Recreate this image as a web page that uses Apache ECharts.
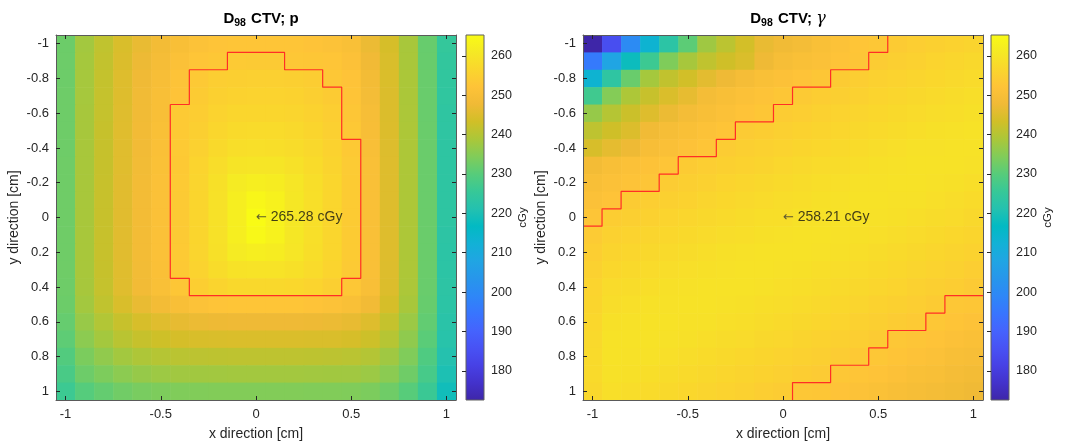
<!DOCTYPE html>
<html>
<head>
<meta charset="utf-8">
<script src="https://cdn.jsdelivr.net/npm/echarts@6/dist/echarts.min.js"></script>
<style>
  html, body { margin: 0; padding: 0; background: #fff; }
  #chart { width: 1065px; height: 447px; }
</style>
</head>
<body>
<div id="chart"></div>
<script>
// cell centres (cm) and ticks
const xs = [-1, -0.9, -0.8, -0.7, -0.6, -0.5, -0.4, -0.3, -0.2, -0.1, 0, 0.1, 0.2, 0.3, 0.4, 0.5, 0.6, 0.7, 0.8, 0.9, 1];
const ys = [-1, -0.9, -0.8, -0.7, -0.6, -0.5, -0.4, -0.3, -0.2, -0.1, 0, 0.1, 0.2, 0.3, 0.4, 0.5, 0.6, 0.7, 0.8, 0.9, 1];
const xTicks = [-1, -0.5, 0, 0.5, 1];
const yTicks = [-1, -0.8, -0.6, -0.4, -0.2, 0, 0.2, 0.4, 0.6, 0.8, 1];
const cbarTicks = [180, 190, 200, 210, 220, 230, 240, 250, 260];
const doseRange = [172.6, 265.28];
const centerDose = [265.28, 258.21];
const markAt = [[0, 0], [0, 0]];

// D98 CTV, p  (rows = y from -1 to 1, columns = x from -1 to 1)
const doseP = [
  [232.2, 238.0, 241.2, 244.3, 246.7, 248.6, 250.3, 251.5, 252.2, 252.4, 252.5, 252.5, 252.4, 252.1, 251.5, 250.4, 247.0, 243.9, 238.5, 231.7, 224.8],
  [232.3, 238.2, 241.5, 244.7, 247.2, 249.2, 251.2, 252.4, 252.9, 253.6, 253.7, 253.7, 253.0, 252.8, 252.5, 251.3, 247.8, 244.3, 238.6, 231.8, 224.4],
  [232.3, 238.3, 241.7, 245.0, 247.7, 249.7, 251.8, 253.4, 254.5, 254.9, 255.0, 255.0, 254.8, 254.3, 252.9, 252.0, 248.5, 244.5, 238.8, 231.9, 224.2],
  [232.4, 238.3, 241.8, 245.1, 247.9, 250.0, 252.1, 253.9, 255.1, 255.6, 255.7, 255.7, 255.5, 254.9, 254.0, 252.3, 249.0, 244.6, 238.8, 231.9, 224.0],
  [232.4, 238.4, 241.8, 245.2, 248.0, 250.3, 253.6, 254.4, 255.7, 256.4, 256.5, 256.5, 256.2, 255.5, 254.6, 252.7, 249.4, 244.7, 238.9, 231.9, 223.8],
  [232.4, 238.4, 241.9, 245.3, 248.2, 250.5, 253.6, 254.9, 256.5, 257.4, 257.5, 257.5, 257.1, 256.3, 255.0, 253.1, 249.8, 244.8, 239.0, 232.0, 223.6],
  [232.4, 238.5, 241.9, 245.4, 248.3, 250.7, 253.6, 255.3, 257.2, 258.3, 258.5, 258.4, 257.9, 257.0, 255.5, 253.5, 250.2, 244.9, 239.0, 232.0, 223.5],
  [232.5, 238.5, 241.9, 245.4, 248.4, 250.9, 253.5, 255.9, 258.1, 259.7, 260.0, 259.9, 259.1, 257.7, 256.1, 253.8, 250.4, 245.0, 239.0, 232.0, 223.5],
  [232.5, 238.5, 242.0, 245.5, 248.5, 251.0, 253.6, 256.2, 258.8, 261.3, 262.0, 261.7, 260.1, 258.3, 256.4, 253.9, 250.5, 245.0, 239.0, 232.0, 223.5],
  [232.5, 238.5, 242.0, 245.5, 248.5, 251.0, 253.7, 256.3, 259.0, 262.0, 264.0, 262.9, 260.5, 258.5, 256.5, 254.0, 250.5, 245.0, 239.0, 232.0, 223.5],
  [232.5, 238.5, 242.0, 245.5, 248.5, 251.0, 253.7, 256.3, 259.0, 262.0, 265.28, 263.0, 260.5, 258.5, 256.5, 254.0, 250.5, 245.0, 239.0, 232.0, 223.5],
  [232.5, 238.5, 242.0, 245.5, 248.5, 251.0, 253.7, 256.3, 259.0, 262.0, 264.5, 263.0, 260.5, 258.5, 256.5, 254.0, 250.5, 245.0, 239.0, 232.0, 223.2],
  [232.5, 238.5, 242.0, 245.5, 248.5, 251.0, 253.6, 256.2, 258.8, 261.3, 262.0, 261.7, 260.1, 258.3, 256.4, 253.9, 250.5, 245.0, 239.0, 232.0, 223.0],
  [232.5, 238.5, 241.9, 245.4, 248.4, 250.8, 253.5, 255.8, 257.9, 259.3, 259.5, 259.4, 258.7, 257.5, 255.9, 253.7, 250.4, 244.9, 239.0, 232.0, 223.0],
  [232.4, 238.4, 241.8, 245.3, 248.1, 250.4, 252.7, 254.7, 256.1, 256.9, 257.0, 257.0, 256.7, 255.9, 254.8, 252.9, 250.0, 244.8, 238.9, 231.9, 223.2],
  [232.2, 238.0, 241.2, 244.3, 246.7, 248.6, 250.3, 251.5, 252.2, 252.4, 252.5, 252.5, 252.4, 252.1, 251.5, 250.4, 248.2, 243.9, 238.5, 231.7, 222.9],
  [231.5, 236.8, 239.6, 242.1, 244.1, 245.4, 246.4, 247.1, 247.4, 247.5, 247.5, 247.5, 247.5, 247.4, 247.1, 246.5, 245.1, 241.8, 237.1, 231.1, 222.5],
  [230.7, 235.5, 238.1, 240.4, 241.9, 242.9, 243.8, 244.2, 244.4, 244.5, 244.5, 244.5, 244.5, 244.4, 244.3, 243.9, 242.7, 240.1, 235.9, 230.3, 222.1],
  [229.3, 233.8, 236.1, 238.0, 239.1, 240.0, 240.5, 240.8, 240.9, 241.0, 241.0, 241.0, 241.0, 240.9, 240.8, 240.6, 239.8, 237.6, 234.3, 228.9, 221.3],
  [228.1, 232.3, 234.0, 235.5, 236.6, 237.3, 237.7, 237.8, 237.9, 238.0, 238.0, 238.0, 238.0, 237.9, 237.8, 237.7, 237.2, 235.4, 232.5, 227.7, 220.3],
  [226.3, 229.7, 231.3, 232.7, 233.5, 234.0, 234.3, 234.4, 234.5, 234.5, 234.5, 234.5, 234.5, 234.4, 234.4, 234.3, 233.9, 232.5, 230.0, 226.0, 218.7]
];

// D98 CTV, gamma
const doseG = [
  [172.6, 184.7, 200.4, 213.4, 223.0, 230.5, 237.5, 240.7, 243.5, 246.7, 248.0, 249.0, 250.5, 251.5, 252.5, 253.0, 253.9, 254.5, 255.1, 255.6, 256.1],
  [196.0, 207.8, 218.0, 226.3, 234.2, 238.4, 241.2, 243.0, 244.5, 247.5, 249.5, 250.5, 251.2, 252.0, 252.6, 254.2, 254.8, 255.4, 255.9, 256.4, 256.9],
  [213.4, 223.6, 231.9, 238.2, 241.4, 243.4, 245.8, 247.5, 249.3, 250.5, 251.3, 252.0, 252.7, 254.0, 254.5, 255.2, 255.7, 256.2, 256.7, 257.1, 257.6],
  [226.8, 234.7, 239.0, 242.0, 244.5, 246.3, 249.0, 250.0, 251.0, 251.8, 252.7, 253.7, 254.3, 254.9, 255.4, 255.9, 256.5, 256.9, 257.4, 257.8, 258.2],
  [236.6, 240.0, 242.5, 245.0, 247.0, 249.0, 250.3, 251.2, 252.0, 252.8, 254.1, 254.6, 255.2, 255.7, 256.2, 256.7, 257.2, 257.6, 258.0, 258.4, 258.8],
  [241.0, 243.0, 244.8, 248.0, 249.5, 250.6, 251.5, 252.3, 253.8, 254.4, 255.0, 255.5, 256.0, 256.5, 257.0, 257.4, 257.9, 258.3, 258.7, 259.0, 259.2],
  [244.0, 246.0, 247.3, 249.8, 250.8, 251.6, 252.4, 254.2, 254.8, 255.3, 255.8, 256.3, 256.8, 257.2, 257.7, 258.1, 258.5, 258.9, 259.1, 259.3, 259.2],
  [248.7, 250.0, 251.0, 251.7, 252.5, 253.9, 254.5, 255.1, 255.6, 256.1, 256.6, 257.1, 257.5, 257.9, 258.3, 258.7, 259.0, 259.2, 259.3, 259.2, 258.9],
  [250.0, 251.2, 251.8, 252.6, 254.2, 254.8, 255.3, 255.9, 256.4, 256.9, 257.3, 257.8, 258.2, 258.6, 258.9, 259.1, 259.3, 259.2, 259.0, 258.7, 258.4],
  [251.0, 252.0, 254.0, 254.5, 255.1, 255.6, 256.2, 256.7, 257.1, 257.6, 258.0, 258.4, 258.8, 259.0, 259.2, 259.3, 259.1, 258.9, 258.5, 258.1, 257.7],
  [252.6, 254.3, 254.8, 255.4, 255.9, 256.4, 256.9, 257.4, 257.8, 258.2, 258.21, 258.9, 259.1, 259.3, 259.2, 259.0, 258.7, 258.3, 257.9, 257.5, 257.0],
  [253.8, 255.2, 255.7, 256.2, 256.7, 257.2, 257.6, 258.0, 258.4, 258.8, 259.1, 259.2, 259.3, 259.1, 258.8, 258.5, 258.1, 257.6, 257.2, 256.8, 256.3],
  [254.6, 256.0, 256.5, 257.0, 257.4, 257.9, 258.3, 258.7, 258.9, 259.2, 259.3, 259.2, 259.0, 258.7, 258.3, 257.9, 257.4, 257.0, 256.5, 256.0, 255.5],
  [255.3, 256.8, 257.2, 257.6, 258.1, 258.5, 258.8, 259.1, 259.3, 259.2, 259.1, 258.8, 258.4, 258.0, 257.6, 257.2, 256.7, 256.2, 255.7, 255.2, 254.6],
  [255.9, 257.5, 257.9, 258.3, 258.7, 259.0, 259.2, 259.3, 259.2, 258.9, 258.6, 258.2, 257.8, 257.4, 256.9, 256.4, 255.9, 255.4, 254.9, 254.3, 253.7],
  [256.3, 258.1, 258.5, 258.9, 259.1, 259.3, 259.2, 259.1, 258.8, 258.4, 258.0, 257.5, 257.1, 256.7, 256.2, 255.6, 255.1, 254.5, 254.0, 253.0, 252.7],
  [256.8, 258.7, 259.0, 259.2, 259.3, 259.1, 258.9, 258.6, 258.2, 257.8, 257.3, 256.9, 256.4, 255.9, 255.4, 254.8, 254.2, 253.6, 253.0, 252.3, 251.7],
  [257.1, 259.2, 259.3, 259.2, 259.0, 258.7, 258.3, 257.9, 257.5, 257.0, 256.6, 256.1, 255.6, 255.1, 254.5, 253.9, 253.0, 252.6, 252.0, 251.3, 250.7],
  [257.3, 259.3, 259.1, 258.9, 258.5, 258.1, 257.7, 257.2, 256.8, 256.3, 255.8, 255.3, 254.8, 254.2, 253.5, 252.9, 252.3, 251.6, 251.0, 250.3, 249.7],
  [257.3, 259.0, 258.7, 258.3, 257.9, 257.4, 256.9, 256.5, 256.0, 255.5, 255.0, 254.4, 253.8, 253.0, 252.5, 251.9, 251.3, 250.6, 250.0, 249.3, 248.7],
  [257.0, 258.5, 258.1, 257.6, 257.2, 256.7, 256.2, 255.7, 255.2, 254.6, 254.1, 253.0, 252.8, 252.1, 251.5, 250.9, 250.3, 249.6, 249.0, 248.4, 247.7]
];

// red outlines (cell edges, cm)
const contourP = [[-0.45, -0.65], [-0.35, -0.65], [-0.35, -0.85], [-0.15, -0.85], [-0.15, -0.95], [0.15, -0.95],
  [0.15, -0.85], [0.35, -0.85], [0.35, -0.75], [0.45, -0.75], [0.45, -0.45], [0.55, -0.45], [0.55, 0.35],
  [0.45, 0.35], [0.45, 0.45], [-0.35, 0.45], [-0.35, 0.35], [-0.45, 0.35], [-0.45, -0.65]];
const contourGUpper = [[0.55, -1.05], [0.55, -0.95], [0.45, -0.95], [0.45, -0.85], [0.25, -0.85], [0.25, -0.75],
  [0.05, -0.75], [0.05, -0.65], [-0.05, -0.65], [-0.05, -0.55], [-0.25, -0.55], [-0.25, -0.45], [-0.35, -0.45],
  [-0.35, -0.35], [-0.55, -0.35], [-0.55, -0.25], [-0.65, -0.25], [-0.65, -0.15], [-0.85, -0.15], [-0.85, -0.05],
  [-0.95, -0.05], [-0.95, 0.05], [-1.05, 0.05]];
const contourGLower = [[1.05, 0.45], [0.85, 0.45], [0.85, 0.55], [0.75, 0.55], [0.75, 0.65], [0.55, 0.65],
  [0.55, 0.75], [0.45, 0.75], [0.45, 0.85], [0.25, 0.85], [0.25, 0.95], [0.05, 0.95], [0.05, 1.05]];

// parula
const parula = ['#3E26A8', '#4332CB', '#4741E5', '#4852F4', '#4563FD', '#3875FE', '#2E87F7', '#2796EB',
  '#20A5E3', '#12B1D6', '#02BAC3', '#24C1AF', '#37C897', '#57CC7A', '#81CC59', '#ABC739', '#D1BF27',
  '#F0BA36', '#FEC338', '#FAD62D', '#F5E924', '#F9FB15'];

const half = (xs[1] - xs[0]) / 2;
const lim = [xs[0] - half, xs[xs.length - 1] + half];
const font = 'Liberation Sans, Arial, Helvetica, sans-serif';
const ink = '#262626';

function cells(rows) {
  const out = [];
  rows.forEach((row, j) => row.forEach((v, i) => out.push([xs[i], ys[j], v])));
  return out;
}

function renderCell(params, api) {
  const x = api.value(0), y = api.value(1);
  const p0 = api.coord([x - half, y - half]);
  const p1 = api.coord([x + half, y + half]);
  return {
    type: 'rect',
    shape: {
      x: Math.min(p0[0], p1[0]), y: Math.min(p0[1], p1[1]),
      width: Math.abs(p1[0] - p0[0]) + 0.6, height: Math.abs(p1[1] - p0[1]) + 0.6
    },
    style: { fill: api.visual('color') }
  };
}

function renderBar(params, api) {
  const p0 = api.coord([0, api.value(1)]);
  const p1 = api.coord([1, api.value(2)]);
  const stops = parula.map((c, i) => ({ offset: i / (parula.length - 1), color: c }));
  return {
    type: 'rect',
    shape: { x: p0[0], y: p1[1], width: p1[0] - p0[0], height: p0[1] - p1[1] },
    style: { fill: new echarts.graphic.LinearGradient(0, 1, 0, 0, stops), stroke: '#606060', lineWidth: 1 }
  };
}

function heatX(grid, top) {
  return {
    type: 'value', gridIndex: grid, position: top ? 'top' : 'bottom', min: lim[0], max: lim[1], z: 5,
    axisLine: { show: true, onZero: false, lineStyle: { color: '#5a5a5a', width: 1 } },
    axisTick: { show: true, inside: true, length: 4, customValues: xTicks, lineStyle: { color: ink } },
    axisLabel: { show: !top, customValues: xTicks, margin: 8, color: ink, fontSize: 13, fontFamily: font },
    splitLine: { show: false },
    name: top ? '' : 'x direction [cm]', nameLocation: 'middle', nameGap: 27,
    nameTextStyle: { color: ink, fontSize: 14, fontFamily: font }
  };
}
function heatY(grid, right) {
  return {
    type: 'value', gridIndex: grid, position: right ? 'right' : 'left', inverse: true, min: lim[0], max: lim[1], z: 5,
    axisLine: { show: true, onZero: false, lineStyle: { color: '#5a5a5a', width: 1 } },
    axisTick: { show: true, inside: true, length: 4, customValues: yTicks, lineStyle: { color: ink } },
    axisLabel: { show: !right, customValues: yTicks, margin: 7, color: ink, fontSize: 13, fontFamily: font },
    splitLine: { show: false },
    name: right ? '' : 'y direction [cm]', nameLocation: 'middle', nameGap: 35, nameRotate: 90,
    nameTextStyle: { color: ink, fontSize: 14, fontFamily: font }
  };
}
function barX(grid) {
  return { type: 'value', gridIndex: grid, min: 0, max: 1, show: false };
}
function barY(grid) {
  return {
    type: 'value', gridIndex: grid, position: 'right', min: doseRange[0], max: doseRange[1], z: 5,
    axisLine: { show: false },
    axisTick: { show: true, inside: true, length: 4, customValues: cbarTicks, lineStyle: { color: ink } },
    axisLabel: { customValues: cbarTicks, margin: 7, color: ink, fontSize: 12.5, fontFamily: font },
    splitLine: { show: false },
    name: 'cGy', nameLocation: 'middle', nameGap: 33, nameRotate: 90,
    nameTextStyle: { color: ink, fontSize: 11.5, fontFamily: font }
  };
}

const titleRich = {
  b: { fontSize: 15, fontWeight: 'bold', color: '#000', fontFamily: font },
  s: { fontSize: 10.5, fontWeight: 'bold', color: '#000', fontFamily: font, padding: [10, 1, 0, 0] },
  g: { fontSize: 16, fontStyle: 'italic', fontWeight: 'normal', color: '#000', fontFamily: 'DejaVu Serif, serif' }
};

function contour(data, xi, yi) {
  return {
    type: 'line', xAxisIndex: xi, yAxisIndex: yi, data: data, symbol: 'none', silent: true, z: 4,
    lineStyle: { color: '#ff2e26', width: 1.2 }
  };
}
function note(k, xi, yi) {
  return {
    type: 'scatter', xAxisIndex: xi, yAxisIndex: yi, data: [markAt[k]], symbolSize: 0, silent: true, z: 6,
    label: {
      show: true, position: 'right', distance: 0, color: '#111', fontSize: 14, fontFamily: font,
      formatter: '{a|\u2190} ' + centerDose[k].toFixed(2) + ' cGy',
      rich: { a: { fontSize: 13, fontFamily: 'DejaVu Sans, sans-serif', color: '#333' } }
    }
  };
}

const chart = echarts.init(document.getElementById('chart'), null, { renderer: 'canvas' });
chart.setOption({
  animation: false,
  backgroundColor: '#fff',
  title: [
    { text: '{b|D}{s|98}{b| CTV; p}', left: 256, top: 3, textAlign: 'center', textStyle: { rich: titleRich } },
    { text: '{b|D}{s|98}{b| CTV; }{g|\u03B3}', left: 783, top: 3, textAlign: 'center', textStyle: { rich: titleRich } }
  ],
  grid: [
    { left: 56, top: 35, width: 400, height: 365 },
    { left: 466, top: 35, width: 18, height: 365 },
    { left: 583, top: 35, width: 400, height: 365 },
    { left: 991, top: 35, width: 18, height: 365 }
  ],
  xAxis: [heatX(0, false), heatX(0, true), barX(1), heatX(2, false), heatX(2, true), barX(3)],
  yAxis: [heatY(0, false), heatY(0, true), barY(1), heatY(2, false), heatY(2, true), barY(3)],
  visualMap: {
    type: 'continuous', show: false, min: doseRange[0], max: doseRange[1], dimension: 2,
    seriesIndex: [0, 4], inRange: { color: parula }
  },
  series: [
    { type: 'custom', xAxisIndex: 0, yAxisIndex: 0, data: cells(doseP), renderItem: renderCell, clip: true, silent: true },
    contour(contourP, 0, 0),
    note(0, 0, 0),
    { type: 'custom', xAxisIndex: 2, yAxisIndex: 2, data: [[0, doseRange[0], doseRange[1]]], renderItem: renderBar, silent: true },
    { type: 'custom', xAxisIndex: 3, yAxisIndex: 3, data: cells(doseG), renderItem: renderCell, clip: true, silent: true },
    contour(contourGUpper, 3, 3),
    contour(contourGLower, 3, 3),
    note(1, 3, 3),
    { type: 'custom', xAxisIndex: 5, yAxisIndex: 5, data: [[0, doseRange[0], doseRange[1]]], renderItem: renderBar, silent: true }
  ]
});
</script>
</body>
</html>
